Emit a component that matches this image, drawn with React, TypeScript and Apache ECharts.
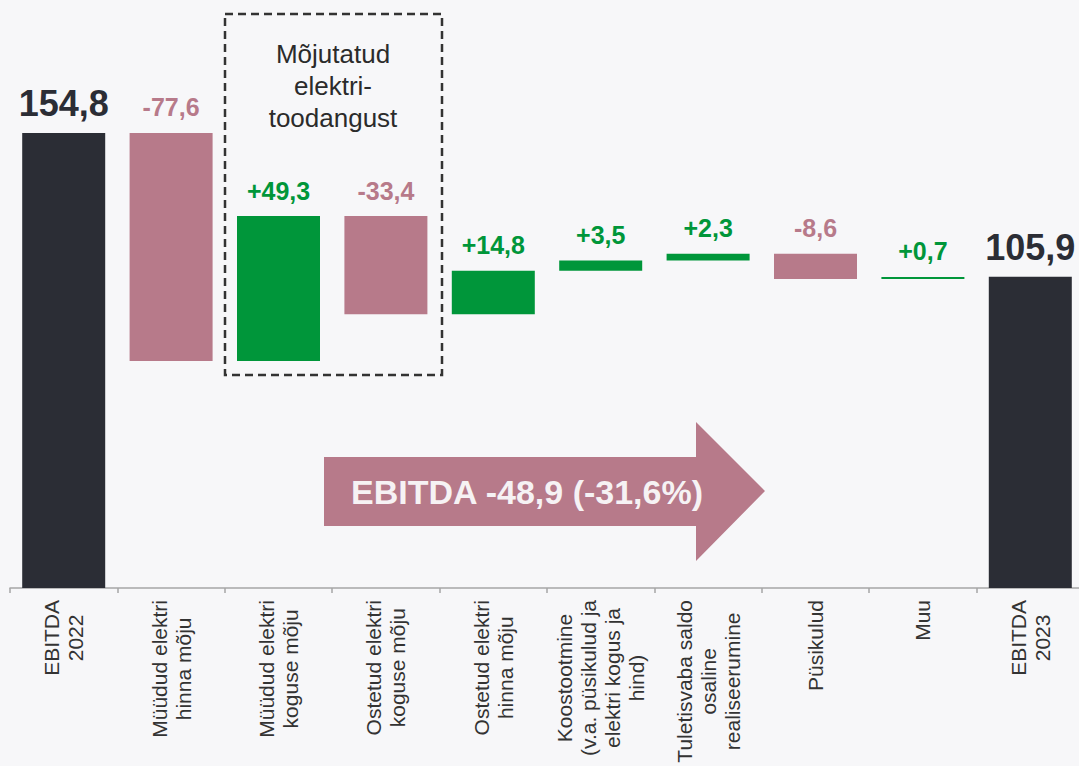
import React, { useEffect, useRef } from 'react';
import * as echarts from 'echarts';

const categories = [
  'EBITDA\n2022',
  'Müüdud elektri\nhinna mõju',
  'Müüdud elektri\nkoguse mõju',
  'Ostetud elektri\nkoguse mõju',
  'Ostetud elektri\nhinna mõju',
  'Koostootmine\n(v.a. püsikulud ja\nelektri kogus ja\nhind)',
  'Tuletisvaba saldo\nosaline\nrealiseerumine',
  'Püsikulud',
  'Muu',
  'EBITDA\n2023',
];
const values = [154.8, -77.6, 49.3, -33.4, 14.8, 3.5, 2.3, -8.6, 0.7, 105.9];
const isTotal = [true, false, false, false, false, false, false, false, false, true];
const boxTitle = 'Mõjutatud\nelektri-\ntoodangust';
const arrowText = 'EBITDA -48,9 (-31,6%)';

const FONT = '"Liberation Sans", Arial, sans-serif';
const DARK = '#2b2d35';
const PINK = '#b77a8a';
const GREEN = '#00963a';
const BG = '#f7f7f9';

function fmt(v: number, total: boolean) {
  const s = Math.abs(v).toFixed(1).replace('.', ',');
  if (total) return s;
  return (v >= 0 ? '+' : '-') + s;
}

export default function App() {
  const ref = useRef<HTMLDivElement>(null);
  useEffect(() => {
    document.body.style.margin = '0';
    document.body.style.background = BG;
    if (!ref.current) return;
    const chart = echarts.init(ref.current, null, { renderer: 'svg' });

    let running = 0;
    const base: number[] = [];
    const heights: number[] = [];
    values.forEach((v, i) => {
      if (isTotal[i]) {
        base.push(0);
        heights.push(v);
        running = v;
      } else if (v >= 0) {
        base.push(running);
        heights.push(v);
        running += v;
      } else {
        running += v;
        base.push(running);
        heights.push(-v);
      }
    });

    const valueData = heights.map((h, i) => {
      const total = isTotal[i];
      const color = total ? DARK : values[i] >= 0 ? GREEN : PINK;
      return {
        value: h,
        itemStyle: { color },
        label: {
          show: true,
          position: 'top',
          distance: total ? 11 : 13,
          formatter: fmt(values[i], total),
          color,
          fontSize: total ? 36 : 25,
          fontWeight: 'bold',
          fontFamily: FONT,
        },
      };
    });

    chart.setOption({
      animation: false,
      backgroundColor: BG,
      grid: { left: 10, right: 0, top: 0, bottom: 178, outerBoundsMode: 'none' },
      xAxis: {
        type: 'category',
        data: categories,
        axisLine: { show: true, lineStyle: { color: '#a6a6a6', width: 1.5 } },
        axisTick: { show: true, length: 5, lineStyle: { color: '#a6a6a6', width: 1.5 } },
        axisLabel: {
          interval: 0,
          rotate: 90,
          margin: 12,
          fontSize: 21,
          lineHeight: 24,
          color: '#333333',
          fontFamily: FONT,
          formatter: (val: string) =>
            val
              .split('\n')
              .map((l) => `{c|${l}}`)
              .join('\n'),
          rich: {
            c: {
              align: 'center',
              fontSize: 21,
              lineHeight: 24,
              color: '#333333',
              fontFamily: FONT,
            },
          },
        },
      },
      yAxis: {
        type: 'value',
        min: 0,
        max: 200,
        show: false,
        splitLine: { show: false },
      },
      series: [
        {
          type: 'bar',
          stack: 'w',
          silent: true,
          barWidth: 83,
          itemStyle: { color: 'transparent' },
          data: base,
        },
        {
          type: 'bar',
          stack: 'w',
          barWidth: 83,
          data: valueData,
        },
      ],
      graphic: [
        {
          type: 'rect',
          shape: { x: 225, y: 14, width: 217, height: 361 },
          style: { fill: 'none', stroke: '#333333', lineWidth: 2.5, lineDash: [8, 5] },
        },
        {
          type: 'text',
          x: 333,
          y: 86,
          style: {
            text: boxTitle,
            fill: '#2b2b2b',
            font: `26px ${FONT}`,
            align: 'center',
            verticalAlign: 'middle',
            lineHeight: 32,
          },
        },
        {
          type: 'polygon',
          shape: {
            points: [
              [324, 457],
              [696, 457],
              [696, 422],
              [765, 491],
              [696, 561],
              [696, 526],
              [324, 526],
            ],
          },
          style: { fill: PINK },
        },
        {
          type: 'text',
          x: 527,
          y: 492,
          style: {
            text: arrowText,
            fill: '#f6f2f4',
            font: `bold 34px ${FONT}`,
            align: 'center',
            verticalAlign: 'middle',
          },
        },
      ],
    });
    return () => chart.dispose();
  }, []);

  return (
    <div style={{ width: 1079, height: 766, overflow: 'hidden', background: BG }}>
      <div ref={ref} style={{ width: 1084, height: 766 }} />
    </div>
  );
}
